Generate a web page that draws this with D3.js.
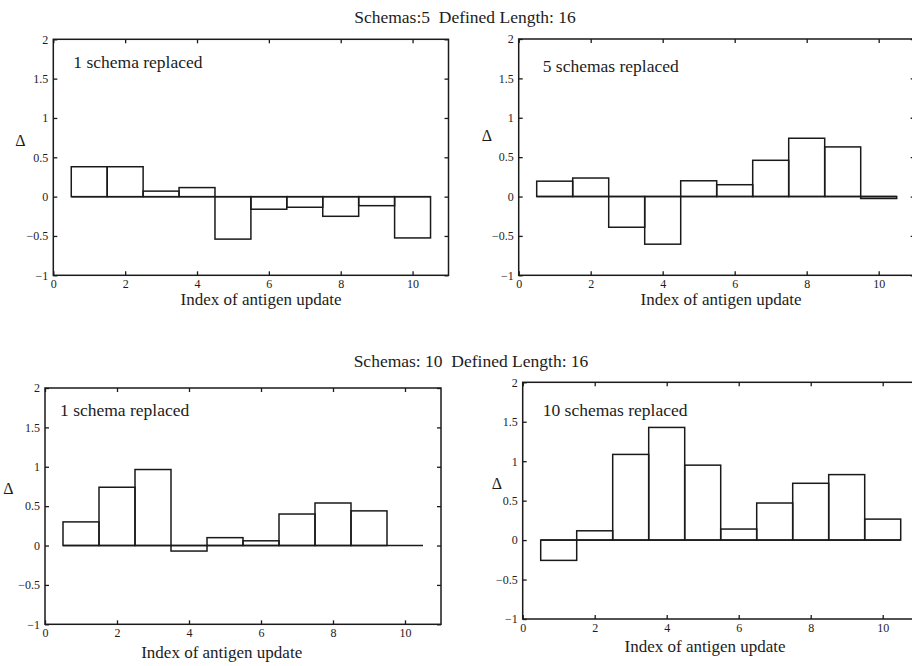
<!DOCTYPE html>
<html>
<head>
<meta charset="utf-8">
<script src="https://cdn.jsdelivr.net/npm/d3@7/dist/d3.min.js"></script>
<style>
  html, body { margin: 0; padding: 0; background: #fff; }
  svg { display: block; }
  text { font-family: "Liberation Serif", "Times New Roman", serif; fill: #1c1c1c; white-space: pre; }
</style>
</head>
<body>
<svg id="chart" width="912" height="666"></svg>
<script>
// ---- data ----
const indices = [1, 2, 3, 4, 5, 6, 7, 8, 9, 10];
const s5OneReplaced  = [0.38, 0.38, 0.07, 0.115, -0.54, -0.16, -0.135, -0.25, -0.115, -0.525];
const s5FiveReplaced = [0.195, 0.235, -0.39, -0.605, 0.20, 0.15, 0.46, 0.74, 0.63, -0.025];
const s10OneReplaced = [0.30, 0.74, 0.965, -0.07, 0.10, 0.06, 0.40, 0.54, 0.44, 0.0];
const s10TenReplaced = [-0.257, 0.118, 1.086, 1.428, 0.95, 0.14, 0.47, 0.72, 0.83, 0.266];
const xTicks = [0, 2, 4, 6, 8, 10];
const yTicks = [-1, -0.5, 0, 0.5, 1, 1.5, 2];
const xDomain = [0, 11];
const yDomain = [-1, 2];
const titles = ["Schemas:5  Defined Length: 16", "Schemas: 10  Defined Length: 16"];
const panelLabels = ["1 schema replaced", "5 schemas replaced", "1 schema replaced", "10 schemas replaced"];
const xLabel = "Index of antigen update";
const yLabel = "\u0394";

// ---- layout ----
const panels = [
  { values: s5OneReplaced,  label: panelLabels[0], x: 53.3,  y: 39.3,  w: 395.2, h: 236.0,
    lab: [20, 68], xl: [261, 305], dl: [20.5, 140] },
  { values: s5FiveReplaced, label: panelLabels[1], x: 518.7, y: 39.0,  w: 396.0, h: 236.3,
    lab: [24, 72], xl: [721, 305], dl: [487, 135] },
  { values: s10OneReplaced, label: panelLabels[2], x: 45.0,  y: 388.0, w: 396.0, h: 236.3,
    lab: [15, 415.5], xl: [221.7, 658], dl: [8.5, 488] },
  { values: s10TenReplaced, label: panelLabels[3], x: 522.7, y: 382.3, w: 396.0, h: 236.7,
    lab: [20, 416], xl: [705, 652], dl: [497, 483] }
];

const svg = d3.select("#chart");
const ink = "#1a1a1a";
const fmt = d3.format("");

svg.append("text").attr("x", 465).attr("y", 22.5).attr("text-anchor", "middle")
  .attr("xml:space", "preserve")
  .style("font-size", "17.5px").text(titles[0]);
svg.append("text").attr("x", 471).attr("y", 366.5).attr("text-anchor", "middle")
  .attr("xml:space", "preserve")
  .style("font-size", "17.5px").text(titles[1]);

panels.forEach(p => {
  const x = d3.scaleLinear().domain(xDomain).range([0, p.w]);
  const y = d3.scaleLinear().domain(yDomain).range([p.h, 0]);
  const g = svg.append("g").attr("transform", `translate(${p.x},${p.y})`);

  // bars
  g.selectAll("rect.bar").data(indices).enter().append("rect")
    .attr("class", "bar")
    .attr("x", d => x(d - 0.5))
    .attr("width", d => x(d + 0.5) - x(d - 0.5))
    .attr("y", (d, i) => y(Math.max(0, p.values[i])))
    .attr("height", (d, i) => Math.abs(y(p.values[i]) - y(0)))
    .attr("fill", "none").attr("stroke", ink).attr("stroke-width", 1.5);
  // zero baseline across bars
  g.append("line")
    .attr("x1", x(indices[0] - 0.5)).attr("x2", x(indices[indices.length - 1] + 0.5))
    .attr("y1", y(0)).attr("y2", y(0))
    .attr("stroke", ink).attr("stroke-width", 1.5);

  // axes
  const bottom = g.append("g").attr("transform", `translate(0,${p.h})`)
    .call(d3.axisBottom(x).tickValues(xTicks).tickFormat(fmt).tickSize(-4).tickPadding(4));
  const top = g.append("g")
    .call(d3.axisTop(x).tickValues(xTicks).tickFormat("").tickSize(-4));
  const left = g.append("g")
    .call(d3.axisLeft(y).tickValues(yTicks).tickFormat(d3.format("")).tickSize(-4).tickPadding(5));
  const right = g.append("g").attr("transform", `translate(${p.w},0)`)
    .call(d3.axisRight(y).tickValues(yTicks).tickFormat("").tickSize(-4));
  [bottom, top, left, right].forEach(a => {
    a.attr("font-family", null).attr("font-size", null);
    a.select(".domain").remove();
    a.selectAll("line").attr("stroke", ink).attr("stroke-width", 1.3);
    a.selectAll("text").style("font-size", "12px").style("font-family", "'Liberation Serif', serif")
      .attr("fill", "#111");
  });

  // frame
  g.append("rect").attr("x", 0).attr("y", 0).attr("width", p.w).attr("height", p.h)
    .attr("fill", "none").attr("stroke", ink).attr("stroke-width", 1.5);

  // panel label
  g.append("text").attr("x", p.lab[0]).attr("y", p.lab[1] - p.y)
    .style("font-size", "17.5px").text(p.label);

  // axis labels
  svg.append("text").attr("x", p.xl[0]).attr("y", p.xl[1]).attr("text-anchor", "middle")
    .style("font-size", "17px").text(xLabel);
  svg.append("text").attr("x", p.dl[0]).attr("y", p.dl[1]).attr("text-anchor", "middle")
    .attr("dominant-baseline", "central").style("font-size", "16px").text(yLabel);
});
</script>
</body>
</html>
